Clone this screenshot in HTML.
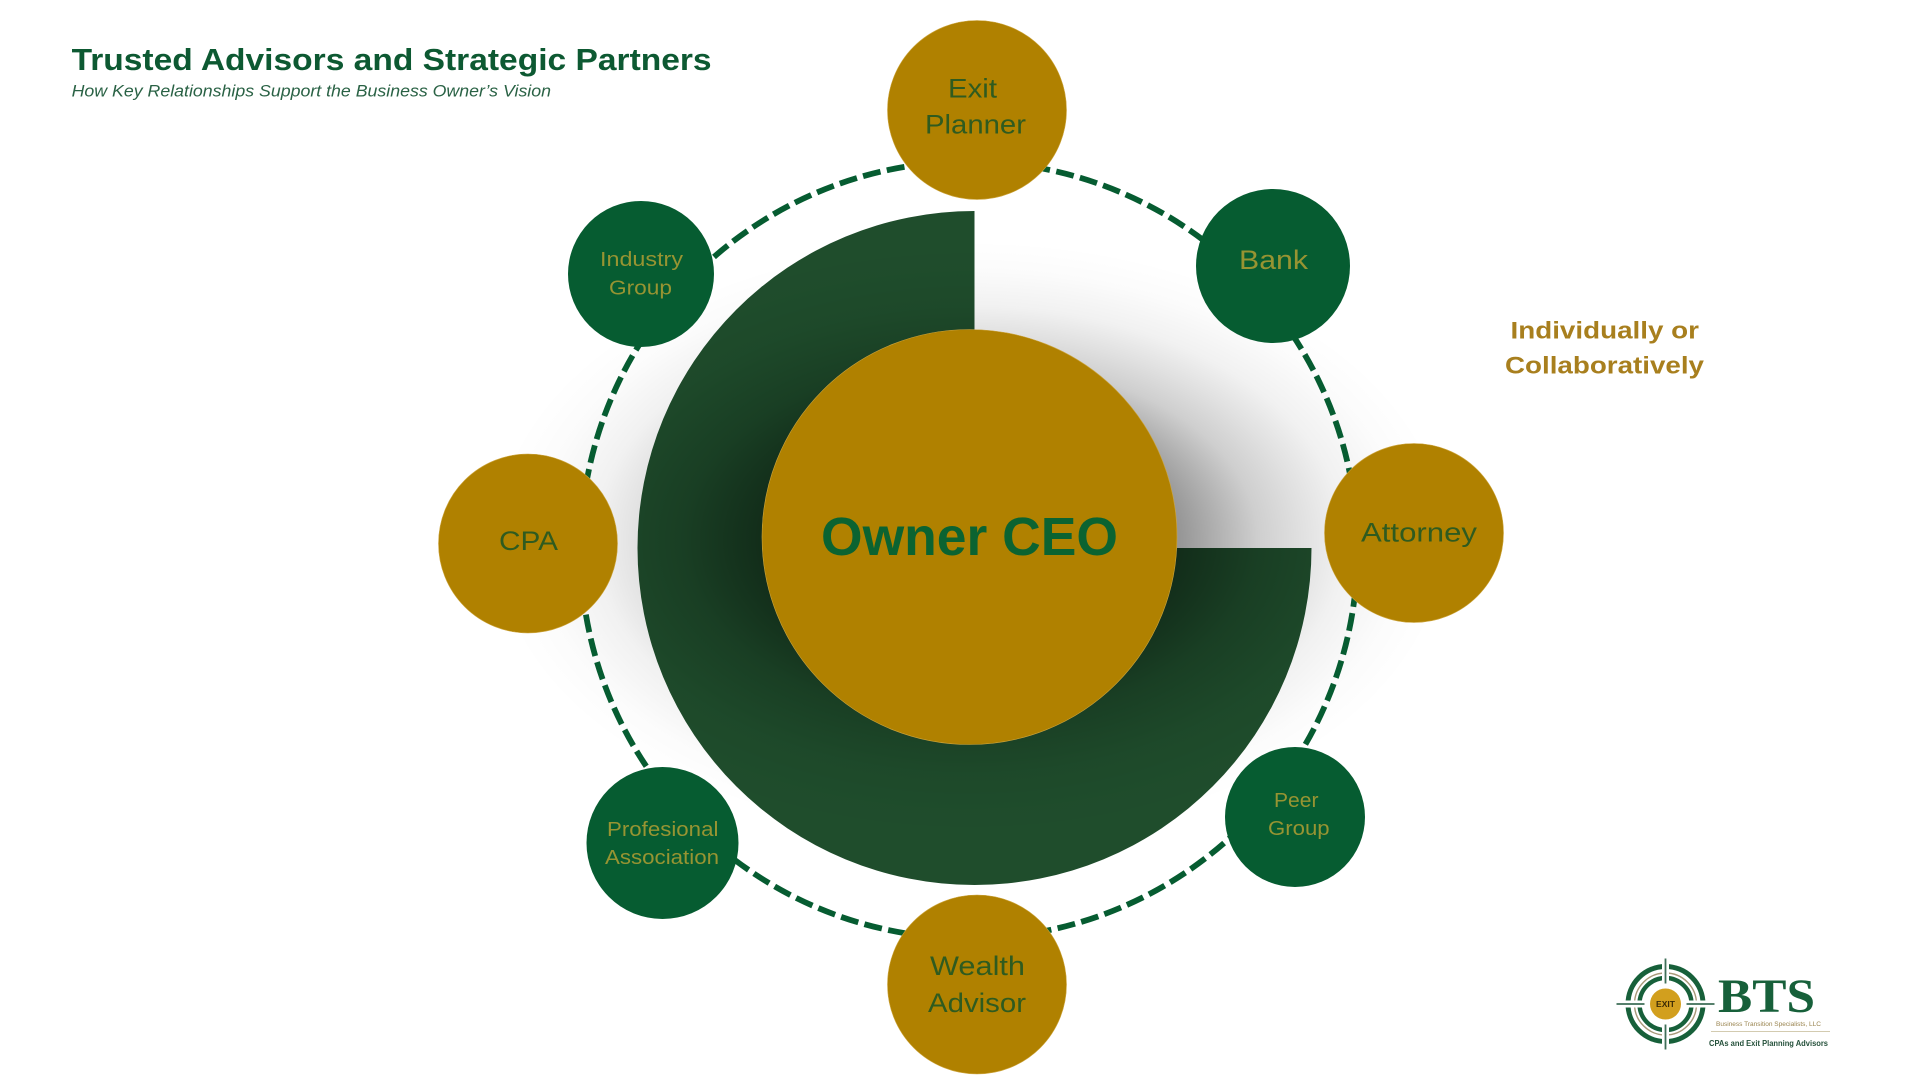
<!DOCTYPE html>
<html lang="en">
<head>
<meta charset="utf-8">
<title>Trusted Advisors and Strategic Partners</title>
<style>
html,body{margin:0;padding:0;background:#fff;width:1920px;height:1080px;overflow:hidden}
svg{display:block}
text{font-family:"Liberation Sans",sans-serif}
.g{fill:#b08100;stroke:#cda53e;stroke-width:.6}
.d{fill:#065c31}
.tg{fill:#2f5b1f;font-size:27px}
.tb{fill:#979432}
</style>
</head>
<body>
<svg width="1920" height="1080" viewBox="0 0 1920 1080" xmlns="http://www.w3.org/2000/svg">
<defs>
<radialGradient id="sh" gradientUnits="userSpaceOnUse" cx="0" cy="0" r="1" gradientTransform="translate(970 540) scale(480 300)">
<stop offset="0" stop-color="#000" stop-opacity=".55"/>
<stop offset=".43" stop-color="#000" stop-opacity=".42"/>
<stop offset=".52" stop-color="#000" stop-opacity=".3"/>
<stop offset=".6" stop-color="#000" stop-opacity=".19"/>
<stop offset=".69" stop-color="#000" stop-opacity=".12"/>
<stop offset=".78" stop-color="#000" stop-opacity=".055"/>
<stop offset=".9" stop-color="#000" stop-opacity=".015"/>
<stop offset="1" stop-color="#000" stop-opacity="0"/>
</radialGradient>
</defs>
<rect width="1920" height="1080" fill="#fff"/>

<path d="M974.5 548 L974.5 211 A337 337 0 1 0 1311.5 548 Z" fill="#1f4d2c"/>
<ellipse cx="970" cy="540" rx="480" ry="300" fill="url(#sh)"/>

<circle cx="969" cy="550" r="388.5" fill="none" stroke="#065c31" stroke-width="5.8" stroke-dasharray="18 6.41" stroke-dashoffset="-14.6"/>

<circle cx="969.5" cy="537" r="207.5" class="g"/>
<text x="821" y="555" font-size="54" font-weight="700" fill="#0b6331" textLength="297" lengthAdjust="spacingAndGlyphs">Owner CEO</text>

<circle cx="977" cy="110" r="89.5" class="g"/>
<circle cx="1273" cy="266" r="77" class="d"/>
<circle cx="1414" cy="533" r="89.5" class="g"/>
<circle cx="1295" cy="817" r="70" class="d"/>
<circle cx="977" cy="984.5" r="89.5" class="g"/>
<circle cx="662.5" cy="843" r="76" class="d"/>
<circle cx="528" cy="543.5" r="89.5" class="g"/>
<circle cx="641" cy="274" r="73" class="d"/>

<text class="tg" x="948" y="97.5" textLength="49" lengthAdjust="spacingAndGlyphs">Exit</text>
<text class="tg" x="925" y="133.6" textLength="101" lengthAdjust="spacingAndGlyphs">Planner</text>
<text class="tb" font-size="27" x="1239" y="269" textLength="69" lengthAdjust="spacingAndGlyphs">Bank</text>
<text class="tg" x="1361" y="541.7" textLength="116" lengthAdjust="spacingAndGlyphs">Attorney</text>
<text class="tg" x="499" y="550" textLength="59" lengthAdjust="spacingAndGlyphs">CPA</text>
<text class="tg" x="930" y="975" textLength="95" lengthAdjust="spacingAndGlyphs">Wealth</text>
<text class="tg" x="928" y="1012" textLength="98" lengthAdjust="spacingAndGlyphs">Advisor</text>
<text class="tb" font-size="20" x="600" y="266" textLength="83" lengthAdjust="spacingAndGlyphs">Industry</text>
<text class="tb" font-size="20" x="609" y="294.4" textLength="63" lengthAdjust="spacingAndGlyphs">Group</text>
<text class="tb" font-size="20" x="607" y="836" textLength="111.4" lengthAdjust="spacingAndGlyphs">Profesional</text>
<text class="tb" font-size="20" x="605" y="864" textLength="114" lengthAdjust="spacingAndGlyphs">Association</text>
<text class="tb" font-size="20" x="1274" y="807" textLength="44.5" lengthAdjust="spacingAndGlyphs">Peer</text>
<text class="tb" font-size="20" x="1268" y="835" textLength="61.6" lengthAdjust="spacingAndGlyphs">Group</text>

<text x="71.6" y="70" font-size="31" font-weight="700" fill="#0d5932" textLength="640" lengthAdjust="spacingAndGlyphs">Trusted Advisors and Strategic Partners</text>
<text x="71.6" y="96.4" font-size="16.5" font-style="italic" fill="#2a6245" textLength="479.4" lengthAdjust="spacingAndGlyphs">How Key Relationships Support the Business Owner’s Vision</text>

<text x="1510.5" y="338.5" font-size="24" font-weight="700" fill="#a87f1e" textLength="188.5" lengthAdjust="spacingAndGlyphs">Individually or</text>
<text x="1505" y="373.6" font-size="24" font-weight="700" fill="#a87f1e" textLength="199" lengthAdjust="spacingAndGlyphs">Collaboratively</text>

<!-- logo -->
<g fill="none">
<circle cx="1665.5" cy="1004" r="37.5" stroke="#17603a" stroke-width="5"/>
<circle cx="1665.5" cy="1004" r="31" stroke="#a89878" stroke-width="1.4"/>
<circle cx="1665.5" cy="1004" r="26" stroke="#17603a" stroke-width="4.4"/>
</g>
<path d="M1665.5 958.5V1049.5M1616.5 1004H1714.5" stroke="#fff" stroke-width="7"/>
<path d="M1665.5 958.5V983.5M1665.5 1024.5V1049.5M1616.5 1004H1644.5M1686.5 1004H1714.5" stroke="#3f6f58" stroke-width="1.8"/>
<circle cx="1665.5" cy="1004" r="15.5" fill="#d29f1e"/>
<text x="1665.5" y="1007" text-anchor="middle" font-size="8.5" font-weight="700" fill="#3a2a05">EXIT</text>
<text x="1718" y="1012" font-size="48" font-weight="700" fill="#17603a" style="font-family:'Liberation Serif',serif" textLength="97" lengthAdjust="spacingAndGlyphs">BTS</text>
<text x="1716" y="1026" font-size="6.5" fill="#9a8550" textLength="105" lengthAdjust="spacingAndGlyphs">Business Transition Specialists, LLC</text>
<line x1="1711" y1="1031.5" x2="1830" y2="1031.5" stroke="#d3cbb0" stroke-width="1"/>
<text x="1709" y="1046" font-size="8" font-weight="700" fill="#24503a" textLength="119" lengthAdjust="spacingAndGlyphs">CPAs and Exit Planning Advisors</text>
</svg>
</body>
</html>
